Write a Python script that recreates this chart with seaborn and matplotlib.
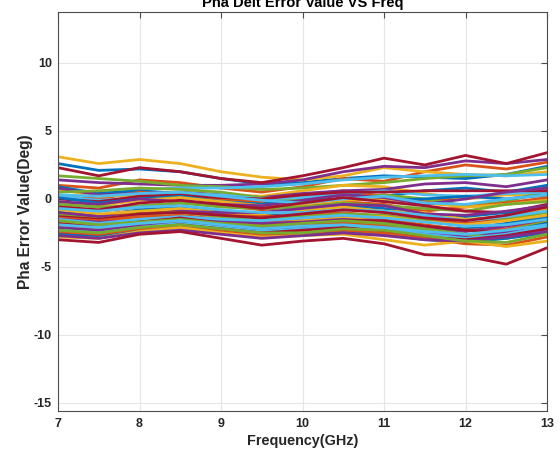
import numpy as np
import pandas as pd
import matplotlib
matplotlib.use("Agg")
import matplotlib.pyplot as plt
import seaborn as sns

freq = [7, 7.5, 8, 8.5, 9, 9.5, 10, 10.5, 11, 11.5, 12, 12.5, 13]

# groups ordered in MATLAB colour order: blue, orange, yellow, purple, green, light blue, crimson
g1 = [
    [2.6, 2.1, 2.2, 2.0, 1.5, 1.1, 1.2, 1.5, 1.7, 1.6, 1.5, 1.8, 2.4],
    [1.0, 0.8, 1.4, 1.2, 0.8, 0.5, 0.9, 1.5, 1.3, 2.0, 2.5, 2.2, 2.7],
    [3.1, 2.6, 2.9, 2.6, 2.0, 1.6, 1.4, 1.7, 2.3, 2.0, 1.8, 1.7, 2.0],
    [1.4, 1.2, 1.1, 1.0, 1.0, 1.1, 1.4, 2.0, 2.4, 2.3, 2.8, 2.6, 2.9],
    [1.7, 1.5, 1.3, 1.0, 0.9, 0.7, 0.8, 1.0, 1.2, 1.5, 1.7, 1.8, 2.3],
    [0.6, 0.5, 0.7, 0.8, 0.8, 0.9, 1.1, 1.4, 1.6, 1.7, 1.8, 1.7, 1.8],
    [2.3, 1.7, 2.3, 2.0, 1.5, 1.2, 1.7, 2.3, 3.0, 2.5, 3.2, 2.6, 3.4],
]
g2 = [
    [0.9, 0.4, 0.6, 0.4, 0.0, -0.3, 0.0, 0.3, 0.2, 0.6, 0.8, 0.5, 1.0],
    [0.3, 0.0, 0.5, 0.3, 0.0, -0.2, 0.3, 0.6, 0.2, -0.2, 0.1, 0.4, 0.8],
    [0.7, 0.2, 0.3, 0.5, 0.3, 0.2, 0.6, 1.0, 0.9, 0.4, 0.0, 0.3, 0.2],
    [0.8, 0.3, 0.4, 0.5, 0.3, 0.1, 0.4, 0.6, 0.7, 1.1, 1.2, 0.9, 1.4],
    [0.5, 0.6, 0.8, 0.7, 0.5, 0.1, -0.1, 0.0, 0.3, 0.0, -0.5, -0.2, 0.6],
    [0.2, -0.1, 0.1, 0.4, 0.3, 0.0, 0.1, 0.4, 0.6, 0.3, 0.2, 0.4, 0.5],
    [0.0, -0.2, 0.2, 0.3, 0.1, 0.0, 0.3, 0.5, 0.5, 0.6, 0.6, 0.6, 0.6],
]
g3 = [
    [0.1, -0.3, 0.0, 0.2, -0.2, -0.4, -0.2, 0.0, -0.1, 0.0, 0.2, 0.0, 0.3],
    [-0.5, -0.9, -0.6, -0.3, -0.5, -0.8, -0.5, -0.2, -0.4, -0.9, -0.6, -0.3, 0.1],
    [-0.3, -0.5, -0.1, 0.1, -0.2, -0.5, -0.4, -0.1, 0.0, -0.3, -0.6, -0.4, -0.1],
    [-0.2, -0.4, 0.0, -0.2, -0.4, -0.5, -0.1, 0.3, 0.1, -0.4, 0.0, 0.5, 0.8],
    [-0.4, -0.6, -0.5, -0.3, -0.6, -0.7, -0.6, -0.3, -0.5, -0.7, -0.9, -0.4, -0.2],
    [0.3, 0.2, 0.4, 0.5, 0.2, -0.1, -0.3, 0.0, 0.2, -0.3, -0.4, 0.0, 0.3],
    [-0.6, -0.8, -0.3, -0.1, -0.4, -0.7, -0.3, 0.1, -0.2, -0.5, -0.9, -1.0, -0.4],
]
g4 = [
    [-0.9, -1.2, -0.8, -0.6, -0.9, -1.2, -0.9, -0.5, -0.7, -1.2, -1.3, -1.0, -0.6],
    [-1.1, -1.3, -1.0, -0.9, -1.1, -1.3, -1.2, -1.0, -1.3, -1.5, -1.8, -1.4, -0.9],
    [-0.8, -1.1, -0.9, -0.7, -1.0, -1.1, -0.8, -0.6, -0.9, -1.0, -1.5, -1.3, -0.8],
    [-1.0, -1.3, -1.2, -0.9, -1.0, -1.0, -0.7, -0.4, -0.5, -1.1, -1.2, -0.9, -0.5],
    [-1.2, -1.5, -1.1, -1.0, -1.3, -1.5, -1.3, -1.1, -1.2, -1.6, -2.0, -1.5, -1.0],
    [-0.7, -0.9, -0.6, -0.5, -0.8, -1.0, -1.0, -0.8, -0.9, -1.2, -1.6, -1.3, -0.9],
    [-1.3, -1.5, -1.1, -1.0, -1.2, -1.4, -1.1, -0.8, -1.0, -1.4, -1.6, -1.2, -0.6],
]
g5 = [
    [-1.6, -1.8, -1.5, -1.3, -1.6, -1.8, -1.6, -1.3, -1.6, -2.0, -2.2, -1.8, -1.3],
    [-1.4, -1.6, -1.3, -1.2, -1.5, -1.7, -1.5, -1.3, -1.5, -1.9, -2.3, -2.2, -1.6],
    [-1.7, -1.9, -1.5, -1.4, -1.7, -1.9, -1.6, -1.4, -1.3, -1.7, -1.9, -1.6, -1.2],
    [-1.5, -1.7, -1.6, -1.5, -1.6, -1.8, -1.7, -1.5, -1.7, -2.1, -2.4, -2.0, -1.5],
    [-1.9, -2.1, -1.8, -1.6, -1.9, -2.1, -1.9, -1.7, -1.9, -2.3, -2.8, -2.3, -1.7],
    [-1.5, -1.8, -1.5, -1.3, -1.5, -1.6, -1.4, -1.2, -1.4, -1.7, -2.0, -1.9, -1.5],
    [-1.8, -2.0, -1.7, -1.4, -1.8, -2.0, -1.8, -1.6, -1.6, -2.0, -2.3, -2.5, -1.8],
]
g6 = [
    [-2.2, -2.4, -2.0, -1.7, -2.1, -2.4, -2.2, -1.9, -2.1, -2.5, -2.7, -2.4, -1.8],
    [-2.0, -2.2, -1.8, -1.6, -1.9, -2.2, -2.0, -1.8, -2.0, -2.6, -3.0, -2.8, -2.2],
    [-2.4, -2.6, -2.1, -1.9, -2.3, -2.6, -2.4, -2.2, -2.3, -2.7, -2.9, -2.6, -2.2],
    [-2.1, -2.3, -2.0, -1.8, -2.0, -2.3, -2.2, -2.0, -2.2, -2.5, -2.8, -2.5, -2.0],
    [-1.6, -1.9, -1.7, -1.5, -1.8, -2.0, -1.8, -1.6, -1.8, -2.2, -2.6, -2.9, -2.4],
    [-2.3, -2.5, -2.1, -1.8, -2.1, -2.4, -2.2, -2.0, -2.2, -2.6, -2.9, -2.6, -2.0],
    [-2.5, -2.7, -2.2, -1.9, -2.2, -2.5, -2.3, -2.1, -2.4, -2.8, -3.0, -2.7, -2.2],
]
g7 = [
    [-2.6, -2.8, -2.3, -2.1, -2.5, -2.8, -2.6, -2.4, -2.6, -3.0, -3.2, -2.9, -2.5],
    [-2.4, -2.6, -2.2, -2.0, -2.4, -2.7, -2.5, -2.3, -2.5, -2.9, -3.3, -3.4, -2.8],
    [-2.8, -2.9, -2.4, -2.1, -2.5, -2.8, -2.7, -2.6, -3.0, -3.4, -3.1, -3.5, -3.1],
    [-2.7, -2.9, -2.5, -2.3, -2.6, -2.9, -2.7, -2.5, -2.7, -3.0, -3.1, -2.8, -2.4],
    [-2.3, -2.5, -2.1, -1.9, -2.2, -2.5, -2.5, -2.2, -2.3, -2.7, -3.1, -3.2, -2.6],
    [-1.9, -2.1, -1.8, -1.6, -1.9, -2.2, -2.0, -1.9, -2.1, -2.4, -2.6, -2.3, -1.9],
    [-3.0, -3.2, -2.6, -2.4, -2.9, -3.4, -3.1, -2.9, -3.3, -4.1, -4.2, -4.8, -3.6],
]

matlab_colors = ["#0072BD", "#D95319", "#EDB120", "#7E2F8E", "#77AC30", "#4DBEEE", "#A2142F"]

series = g1 + g2 + g3 + g4 + g5 + g6 + g7
rows = []
for i, s in enumerate(series):
    for f, v in zip(freq, s):
        rows.append({"freq": f, "err": v, "line": i})
df = pd.DataFrame(rows)
palette = [matlab_colors[i % 7] for i in range(len(series))]

sns.set_theme(style="white")
plt.rcParams["font.family"] = ["Liberation Sans", "DejaVu Sans"]
plt.rcParams["font.weight"] = "bold"
plt.rcParams["axes.unicode_minus"] = False

fig = plt.figure(figsize=(5.6, 4.51), dpi=100)
ax = fig.add_axes([58 / 560, 40 / 451, 489 / 560, 399 / 451])

sns.lineplot(data=df, x="freq", y="err", hue="line", palette=palette,
             estimator=None, sort=False, legend=False, linewidth=2.0, ax=ax)

ax.set_xlim(7, 13)
ax.set_ylim(-15.6, 13.75)
ax.set_xticks([7, 8, 9, 10, 11, 12, 13])
ax.set_yticks([-15, -10, -5, 0, 5, 10])
ax.grid(True, color="#e6e6e6", linewidth=0.8)
ax.set_axisbelow(True)
for sp in ax.spines.values():
    sp.set_color("#4d4d4d")
    sp.set_linewidth(0.8)
    sp.set_visible(True)
ax.tick_params(axis="both", direction="in", length=4, width=0.8, color="#4d4d4d",
               labelsize=9, labelcolor="#262626", top=True, right=True)
ax.tick_params(axis="y", pad=4.5)
ax.tick_params(axis="x", pad=5)
for lab in ax.get_xticklabels() + ax.get_yticklabels():
    lab.set_fontweight("bold")
ax.set_xlabel("Frequency(GHz)", fontsize=10.4, fontweight="bold", color="#262626")
ax.set_ylabel("Pha Error Value(Deg)", fontsize=11.2, fontweight="bold", color="#262626")
ax.xaxis.set_label_coords(0.5, -0.058)
ax.yaxis.set_label_coords(-0.052, 0.5)
ax.set_title("Pha Delt Error Value VS Freq", fontsize=10.6, fontweight="bold", color="#000000", pad=3.7)

fig.savefig("out.png", dpi=100, facecolor="white")
